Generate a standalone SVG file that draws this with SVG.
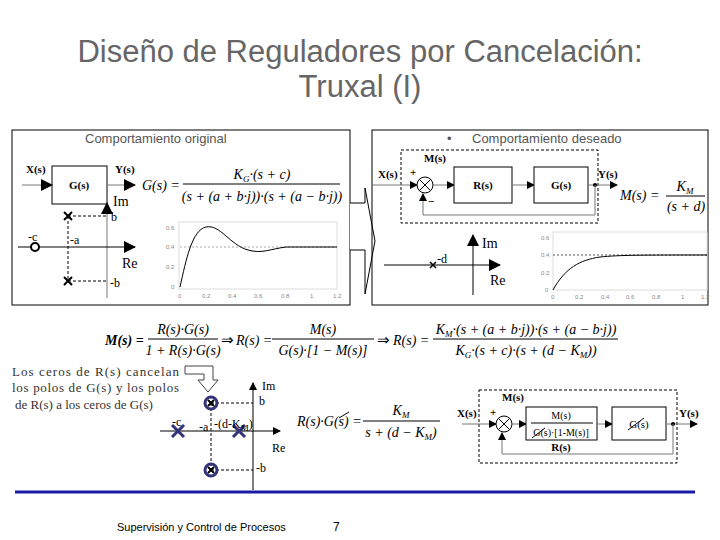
<svg xmlns="http://www.w3.org/2000/svg" width="720" height="540" viewBox="0 0 720 540">
<style>
.t{font-family:"Liberation Sans",Arial,sans-serif;fill:#555}
.s{font-family:"Liberation Serif","Times New Roman",serif;fill:#000}
.b{font-weight:bold;font-size:11px}
.m{font-style:italic;font-size:14px}
.tk{font-family:"Liberation Sans",sans-serif;font-size:6px;fill:#888}
.ln{stroke:#000;stroke-width:1;fill:none}
.gl{stroke:#777;stroke-width:1;fill:none}
.ds{stroke:#000;stroke-width:1;stroke-dasharray:3,2;fill:none}
.box{fill:#fff;stroke:#000;stroke-width:1}
</style>
<defs>
<marker id="a" markerWidth="8" markerHeight="8" refX="7" refY="4" orient="auto" markerUnits="userSpaceOnUse"><path d="M0,0L8,4L0,8z" fill="#000"/></marker>
<marker id="A" markerWidth="12" markerHeight="12" refX="11" refY="6" orient="auto" markerUnits="userSpaceOnUse"><path d="M0,0L12,6L0,12z" fill="#000"/></marker>
</defs>
<rect width="720" height="540" fill="#fff"/>
<g id="title" class="t" font-size="31" text-anchor="middle" style="fill:#666"><text x="360" y="62">Diseño de Reguladores por Cancelación:</text><text x="360" y="97">Truxal (I)</text></g>

<g id="panelLeft">
<rect x="12" y="130" width="338" height="175" fill="none" stroke="#000"/>
<text class="t" x="85" y="143" font-size="13">Comportamiento original</text>
<text class="s b" x="26" y="173">X(s)</text>
<rect class="box" x="52" y="166" width="55" height="38"/><text class="s b" x="79" y="189" text-anchor="middle">G(s)</text>
<text class="s b" x="115" y="173">Y(s)</text>
<line class="gl" x1="22" y1="185" x2="52" y2="185" marker-end="url(#A)"/>
<line class="gl" x1="107" y1="185" x2="135" y2="185" marker-end="url(#A)"/>
<text class="s m" x="142" y="190">G(s) =</text>
<text class="s m" x="262" y="179" text-anchor="middle">K<tspan font-size="9" dy="3">G</tspan><tspan dy="-3">·(s + c)</tspan></text>
<line class="ln" x1="183" y1="184" x2="340" y2="184"/>
<text class="s m" x="262" y="201" text-anchor="middle">(s + (a + b·j))·(s + (a − b·j))</text>
<line class="gl" x1="107" y1="298" x2="107" y2="203" marker-end="url(#A)"/>
<line class="ln" x1="18" y1="247" x2="135" y2="247" marker-end="url(#A)"/>
<text class="s" x="113" y="206" font-size="14">Im</text><text class="s" x="122" y="268" font-size="14">Re</text>
<path class="ds" d="M68,216V281M68,216H107M68,281H107"/>
<path d="M64,212l8,8M72,212l-8,8M64,277l8,8M72,277l-8,8" stroke="#000" stroke-width="2"/>
<circle cx="35" cy="247" r="4" fill="#fff" stroke="#000" stroke-width="2"/>
<g class="s" font-size="12"><text x="111" y="221">b</text><text x="110" y="287">-b</text><text x="70" y="244">-a</text><text x="28" y="241">-c</text></g>
<rect x="179" y="222" width="158" height="67" fill="none" stroke="#ddd"/>
<line x1="180" y1="247" x2="337" y2="247" stroke="#aaa" stroke-dasharray="2,2"/>
<path class="ln" stroke-width="1.5" d="M180,287C186,260 192,230 206,227C220,224 230,245 248,250C262,254 270,249 286,247L337,247"/>
<g class="tk"><text x="166" y="230">0.6</text><text x="166" y="249">0.4</text><text x="166" y="269">0.2</text><text x="171" y="289">0</text>
<text x="178" y="298">0</text><text x="202" y="298">0.2</text><text x="228" y="298">0.4</text><text x="254" y="298">0.6</text><text x="281" y="298">0.8</text><text x="310" y="298">1</text><text x="333" y="298">1.2</text></g>
</g>

<g id="bigArrow"><path d="M350,203H365V188L375,241L365,294V250H350" fill="#fff" stroke="#000"/></g>

<g id="panelRight">
<rect x="372" y="130" width="336" height="175" fill="none" stroke="#000"/>
<text class="t" x="447" y="143" font-size="13">•</text>
<text class="t" x="472" y="143" font-size="13">Comportamiento deseado</text>
<rect x="401" y="150" width="197" height="73" class="ds"/>
<text class="s b" x="424" y="162">M(s)</text>
<text class="s b" x="378" y="178">X(s)</text><text class="s b" x="410" y="176">+</text><text class="s b" x="428" y="205">−</text>
<line class="gl" x1="372" y1="185" x2="417" y2="185" marker-end="url(#a)"/>
<circle cx="425" cy="185" r="8" class="box"/><path class="ln" d="M419.3,179.3l11.4,11.4M430.7,179.3l-11.4,11.4"/>
<line class="gl" x1="433" y1="185" x2="454" y2="185" marker-end="url(#a)"/>
<rect class="box" x="454" y="167" width="58" height="36"/><text class="s b" x="483" y="189" text-anchor="middle">R(s)</text>
<line class="gl" x1="512" y1="185" x2="534" y2="185" marker-end="url(#a)"/>
<rect class="box" x="534" y="167" width="54" height="36"/><text class="s b" x="561" y="189" text-anchor="middle">G(s)</text>
<line class="gl" x1="588" y1="185" x2="617" y2="185" marker-end="url(#a)"/>
<circle cx="595" cy="185" r="2" fill="#000"/>
<path class="gl" d="M595,185V215H423V194" marker-end="url(#a)"/>
<text class="s b" x="598" y="178">Y(s)</text>
<text class="s m" x="620" y="200">M(s) =</text>
<text class="s m" x="685" y="191" text-anchor="middle">K<tspan font-size="9" dy="3">M</tspan></text>
<line class="ln" x1="666" y1="196" x2="705" y2="196"/>
<text class="s m" x="686" y="211" text-anchor="middle">(s + d)</text>
<line class="ln" x1="384" y1="265" x2="500" y2="265" marker-end="url(#A)"/>
<line class="ln" x1="473" y1="295" x2="473" y2="235" marker-end="url(#A)"/>
<text class="s" x="482" y="248" font-size="14">Im</text><text class="s" x="490" y="285" font-size="14">Re</text>
<path d="M430,262l6,6M436,262l-6,6" stroke="#000" stroke-width="1.5"/>
<text class="s" x="437" y="263" font-size="12">-d</text>
<rect x="553" y="232" width="154" height="58" fill="none" stroke="#ddd"/>
<line x1="553" y1="255" x2="707" y2="255" stroke="#555" stroke-dasharray="2,2"/>
<path class="ln" stroke-width="1.5" d="M553,290C565,268 580,260 600,257C620,255 640,255 707,255"/>
<g class="tk"><text x="541" y="240">0.6</text><text x="541" y="257">0.4</text><text x="541" y="275">0.2</text><text x="545" y="292">0</text>
<text x="551" y="299">0</text><text x="575" y="299">0.2</text><text x="601" y="299">0.4</text><text x="626" y="299">0.6</text><text x="652" y="299">0.8</text><text x="681" y="299">1</text><text x="701" y="299">1.2</text></g>
</g>

<g id="equations" class="s">
<text class="m" x="105" y="345" font-weight="bold">M(s) =</text>
<text class="m" x="183" y="334" text-anchor="middle">R(s)·G(s)</text>
<line class="ln" x1="148" y1="339" x2="218" y2="339"/>
<text class="m" x="183" y="355" text-anchor="middle">1 + R(s)·G(s)</text>
<text x="221" y="345" font-size="15">⇒</text>
<text class="m" x="236" y="345">R(s) =</text>
<text class="m" x="323" y="334" text-anchor="middle">M(s)</text>
<line class="ln" x1="272" y1="339" x2="374" y2="339"/>
<text class="m" x="323" y="355" text-anchor="middle">G(s)·[1 − M(s)]</text>
<text x="377" y="345" font-size="15">⇒</text>
<text class="m" x="393" y="345">R(s) =</text>
<text class="m" x="526" y="334" text-anchor="middle">K<tspan font-size="9" dy="3">M</tspan><tspan dy="-3">·(s + (a + b·j))·(s + (a − b·j))</tspan></text>
<line class="ln" x1="433" y1="339" x2="618" y2="339"/>
<text class="m" x="526" y="355" text-anchor="middle">K<tspan font-size="9" dy="3">G</tspan><tspan dy="-3">·(s + c)·(s + (d − K</tspan><tspan font-size="9" dy="3">M</tspan><tspan dy="-3">))</tspan></text>
</g>

<g id="note" class="s" font-size="13" style="fill:#333">
<text x="12" y="376" textLength="167" lengthAdjust="spacing">Los ceros de R(s) cancelan</text>
<text x="12" y="392" textLength="167" lengthAdjust="spacing">los polos de G(s) y los polos</text>
<text x="15" y="409">de R(s) a los ceros de G(s)</text>
</g>
<g id="bentArrow"><path d="M185,366H213V380H218L208,392L198,380H204V374H185Z" fill="#fff" stroke="#444"/></g>

<g id="pzBottom">
<line class="ln" x1="160" y1="431" x2="280" y2="431" marker-end="url(#a)" stroke-width="1.5"/>
<line class="ln" x1="253" y1="490" x2="253" y2="383" marker-end="url(#a)" stroke-width="1.5"/>
<path class="ds" d="M211,403V470M211,403H253M211,470H253"/>
<g stroke="#33337a" stroke-width="3"><circle cx="211" cy="403" r="6" fill="none"/><circle cx="211" cy="470" r="6" fill="none"/>
<path d="M172,425l12,12M184,425l-12,12M233,425l12,12M245,425l-12,12"/></g>
<path d="M208,400l6,6M214,400l-6,6M208,467l6,6M214,467l-6,6" stroke="#000" stroke-width="2"/>
<g class="s" font-size="12"><text x="262" y="390">Im</text><text x="259" y="405">b</text><text x="272" y="452">Re</text><text x="256" y="472">-b</text>
<text x="172" y="426">-c</text><text x="199" y="431">-a</text><text x="214" y="428">-(d-K<tspan font-size="9" dy="3">M</tspan><tspan dy="-3">)</tspan></text></g>
</g>

<g id="eqRG" class="s">
<text class="m" x="297" y="426">R(s)·G(s) =</text>
<line class="ln" x1="339" y1="418" x2="349" y2="412" stroke-width="0.8"/>
<text class="m" x="401" y="415" text-anchor="middle">K<tspan font-size="9" dy="3">M</tspan></text>
<line class="ln" x1="363" y1="421" x2="440" y2="421"/>
<text class="m" x="401" y="437" text-anchor="middle">s + (d − K<tspan font-size="9" dy="3">M</tspan><tspan dy="-3">)</tspan></text>
</g>

<g id="loopBottom">
<rect x="479" y="390" width="198" height="73" class="ds"/>
<text class="s b" x="502" y="401">M(s)</text>
<text class="s b" x="457" y="417">X(s)</text><text class="s b" x="490" y="416">+</text>
<line class="gl" x1="462" y1="424" x2="496" y2="424" marker-end="url(#a)"/>
<circle cx="504" cy="424" r="8" class="box"/><path class="ln" d="M498.3,418.3l11.4,11.4M509.7,418.3l-11.4,11.4"/>
<line class="gl" x1="512" y1="424" x2="526" y2="424" marker-end="url(#a)"/>
<rect class="box" x="526" y="407" width="71" height="33"/>
<text class="s" x="561" y="419" font-size="10" text-anchor="middle">M(s)</text>
<line class="ln" x1="531" y1="423" x2="593" y2="423"/>
<text class="s" x="561" y="436" font-size="10" text-anchor="middle">G(s)·[1-M(s)]</text>
<line class="ln" x1="532" y1="438" x2="545" y2="428"/>
<text class="s b" x="561" y="451" text-anchor="middle">R(s)</text>
<line class="gl" x1="597" y1="424" x2="612" y2="424" marker-end="url(#a)"/>
<rect class="box" x="612" y="407" width="54" height="33"/>
<text class="s" x="639" y="428" font-size="11" text-anchor="middle">G(s)</text>
<line class="ln" x1="628" y1="430" x2="644" y2="418"/>
<line class="gl" x1="666" y1="424" x2="697" y2="424" marker-end="url(#a)"/>
<circle cx="673" cy="424" r="2" fill="#000"/>
<path class="gl" d="M673,424V454H502V433" marker-end="url(#a)"/>
<text class="s b" x="679" y="417">Y(s)</text>
</g>

<g id="footer">
<line x1="15" y1="492" x2="695" y2="492" stroke="#1a1aa8" stroke-width="3"/>
<text class="t" x="117" y="531" font-size="11" style="fill:#000">Supervisión y Control de Procesos</text>
<text class="t" x="333" y="531" font-size="12" style="fill:#000">7</text>
</g>
</svg>
